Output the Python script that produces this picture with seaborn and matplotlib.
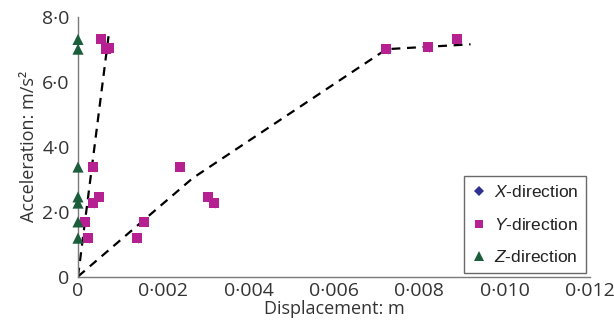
import matplotlib
matplotlib.use("Agg")
import matplotlib.pyplot as plt
import seaborn as sns
import pandas as pd
from matplotlib.lines import Line2D
from matplotlib.ticker import FuncFormatter

sns.set_style("white")
plt.rcParams['font.family'] = ['Open Sans', 'DejaVu Sans']
plt.rcParams['mathtext.fontset'] = 'custom'
plt.rcParams['mathtext.rm'] = 'Liberation Sans'
plt.rcParams['mathtext.it'] = 'Liberation Sans:italic'

# ---- data ----
y_disp = [0.00054, 0.00065, 0.00073, 0.00036, 0.00049, 0.00035, 0.00017, 0.00023,
          0.00154, 0.00138, 0.00239, 0.00304, 0.00318, 0.00723, 0.00820, 0.00889]
y_acc = [7.31, 7.00, 7.03, 3.37, 2.45, 2.26, 1.68, 1.18,
         1.68, 1.18, 3.37, 2.45, 2.26, 7.00, 7.06, 7.30]

x_disp = [0.00058, 0.00069, 0.00077, 0.00040, 0.00053, 0.00039, 0.00021, 0.00027,
          0.00158, 0.00142, 0.00243, 0.00308, 0.00322, 0.00727, 0.00824, 0.00893]
x_acc = [7.25, 6.94, 6.97, 3.31, 2.39, 2.20, 1.62, 1.12,
         1.62, 1.12, 3.31, 2.39, 2.20, 6.94, 7.00, 7.24]

z_disp = [0.0, 0.0, 0.0, 0.0, 0.0, 0.0, 0.0]
z_acc = [7.30, 7.00, 3.37, 2.45, 2.26, 1.68, 1.18]

fit1_disp = [0.0, 0.00073]
fit1_acc = [0.0, 7.55]
fit2_disp = [0.0, 0.00269, 0.00723, 0.00920]
fit2_acc = [0.0, 3.03, 7.00, 7.15]

x_ticks = [0, 0.002, 0.004, 0.006, 0.008, 0.010, 0.012]
y_ticks = [0, 2, 4, 6, 8]

c_x = '#2E3192'
c_y = '#B52190'
c_z = '#1B5E3B'
gray = '#333333'

fig = plt.figure(figsize=(6.14, 3.29), dpi=100)
ax = fig.add_axes([78/614, 1-276.5/329, (590-78)/614, (276.5-16.7)/329])

sns.lineplot(x=fit1_disp, y=fit1_acc, ax=ax, color='black', lw=1.6,
             linestyle=(0, (4, 3)), sort=False, zorder=2)
sns.lineplot(x=fit2_disp, y=fit2_acc, ax=ax, color='black', lw=1.6,
             linestyle=(0, (4, 3)), sort=False, zorder=2)

sns.scatterplot(x=x_disp, y=x_acc, ax=ax, marker='D', s=12, color=c_x,
                edgecolor='none', linewidth=0, zorder=3, clip_on=False)
sns.scatterplot(x=y_disp, y=y_acc, ax=ax, marker='s', s=52, color=c_y,
                edgecolor='none', linewidth=0, zorder=4, clip_on=False)
sns.scatterplot(x=z_disp, y=z_acc, ax=ax, marker='^', s=64, color=c_z,
                edgecolor='none', linewidth=0, zorder=5, clip_on=False)

ax.set_xlim(0, 0.012)
ax.set_ylim(0, 8)
ax.set_xticks(x_ticks)
ax.set_yticks(y_ticks)

def fmt_x(v, p):
    return '0' if abs(v) < 1e-12 else f'{v:.3f}'.replace('.', '\u00b7')

def fmt_y(v, p):
    return '0' if abs(v) < 1e-12 else f'{v:.1f}'.replace('.', '\u00b7')

ax.xaxis.set_major_formatter(FuncFormatter(fmt_x))
ax.yaxis.set_major_formatter(FuncFormatter(fmt_y))

for s in ['top', 'right']:
    ax.spines[s].set_visible(False)
for s in ['left', 'bottom']:
    ax.spines[s].set_color('#7a7a7a')
    ax.spines[s].set_linewidth(1.0)

ax.tick_params(axis='x', direction='in', length=6, width=0.8, color='#cccccc',
               labelsize=14, labelcolor=gray, pad=4)
ax.tick_params(axis='y', direction='in', length=6, width=0.8, color='#7a7a7a',
               labelsize=14, labelcolor=gray, pad=6)

ax.set_xlabel('Displacement: m', fontsize=13, color=gray, labelpad=0)
ax.set_ylabel('Acceleration: m/s\u00b2', fontsize=13, color=gray, labelpad=3)

handles = [
    Line2D([], [], marker='D', ls='none', color=c_x, markersize=5, markeredgewidth=0),
    Line2D([], [], marker='s', ls='none', color=c_y, markersize=6, markeredgewidth=0),
    Line2D([], [], marker='^', ls='none', color=c_z, markersize=6.5, markeredgewidth=0),
]
labels = [r'$\it{X}$-direction', r'$\it{Y}$-direction', r'$\it{Z}$-direction']
leg = fig.legend(handles, labels, loc='lower right',
                 bbox_to_anchor=(586/614, 1-273/329), bbox_transform=fig.transFigure,
                 frameon=True, fancybox=False, borderaxespad=0,
                 prop={'family': 'Liberation Sans', 'size': 12.5},
                 labelspacing=0.95, handlelength=0.8, handletextpad=0.45,
                 borderpad=0.45, edgecolor='#444444')
leg.get_frame().set_linewidth(1.0)
for t in leg.get_texts():
    t.set_color('#222222')

fig.savefig('out.png', dpi=100)
